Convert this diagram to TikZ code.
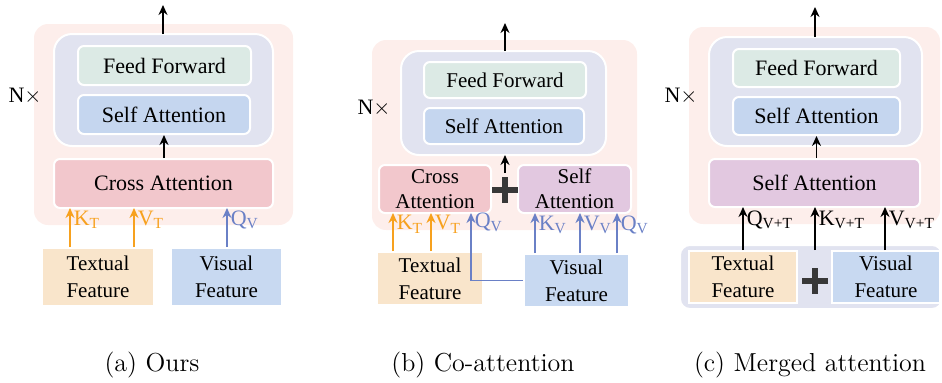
\documentclass[tikz,border=0pt]{standalone}
\usepackage{fontspec}
\usepackage{xcolor}
\usetikzlibrary{arrows.meta,calc,positioning}
\newfontfamily\tnr{Liberation Serif}

\definecolor{outerpink}{HTML}{FDEEEB}
\definecolor{lavender}{HTML}{E1E3F0}
\definecolor{ffgreen}{HTML}{DCEAE5}
\definecolor{sablue}{HTML}{C5D6EF}
\definecolor{crosspink}{HTML}{F2C7CC}
\definecolor{selfpurple}{HTML}{E2C8E0}
\definecolor{peach}{HTML}{F9E5CB}
\definecolor{visblue}{HTML}{C8D9F1}
\definecolor{orangearr}{HTML}{F7A11E}
\definecolor{bluearr}{HTML}{6A80C6}

\tikzset{
  outer/.style={fill=outerpink,draw=none,rounded corners=7pt},
  inner/.style={fill=lavender,draw=white,line width=1pt,rounded corners=9pt},
  blk/.style={draw=white,line width=1pt,rounded corners=3pt,inner sep=0pt,align=center,
    font=\tnr\fontsize{11}{12.5}\selectfont},
  feat/.style={draw=white,line width=1pt,inner sep=0pt,align=center,
    font=\tnr\fontsize{10.5}{13.5}\selectfont},
  arr/.style={line width=0.8pt,-{Stealth[length=5pt,width=4.5pt]}},
  orarr/.style={arr,draw=orangearr},
  blarr/.style={arr,draw=bluearr},
  lbl/.style={font=\tnr\fontsize{11}{12}\selectfont,anchor=west,inner sep=0pt,xshift=1.5pt},
  nx/.style={font=\tnr\fontsize{11}{12}\selectfont},
  plussign/.style={minimum size=13pt,inner sep=0pt,
    path picture={\draw[line width=2.6pt,color=black!78]
      (path picture bounding box.north) -- (path picture bounding box.south)
      (path picture bounding box.west) -- (path picture bounding box.east);}},
  capt/.style={font=\fontsize{13}{15}\selectfont}
}

\begin{document}
\begin{tikzpicture}[x=0.5pt,y=-0.5pt]
\useasboundingbox (0,0) rectangle (942,382);

% (a) ours
\fill[outer] (34,24) rectangle (293,225);
\draw[inner] (54,34) rectangle (273,146);
\node[blk,fill=ffgreen,minimum width=86.5pt,minimum height=19.5pt] (ffa) at (164.5,65.5) {Feed Forward};
\node[blk,fill=sablue,minimum width=86pt,minimum height=19.5pt] (saa) at (164,114.5) {Self Attention};
\node[blk,fill=crosspink,minimum width=109.5pt,minimum height=24.5pt] (crossa) at (163.5,183.5) {Cross Attention};
\node[feat,fill=peach,minimum width=56pt,minimum height=29pt] (texta) at (98,277) {Textual\\Feature};
\node[feat,fill=visblue,minimum width=55.5pt,minimum height=29pt] (visa) at (226.5,277) {Visual\\Feature};
\node[nx] (nxa) at (25,96) {N$\times$};
\coordinate (outa) at (163,5);
\coordinate (inna) at (163,34);
\coordinate (kta) at (70,208);
\coordinate (vta) at (134,208);
\coordinate (qva) at (227,208);
\draw[arr] (crossa.north -| saa.south) -- (saa.south);
\draw[arr] (inna) -- (outa);
\draw[orarr] (texta.north -| kta) -- (kta) node[lbl,orangearr,pos=0.7] {K\textsubscript{T}};
\draw[orarr] (texta.north -| vta) -- (vta) node[lbl,orangearr,pos=0.7] {V\textsubscript{T}};
\draw[blarr] (visa.north -| qva) -- (qva) node[lbl,bluearr,pos=0.7] {Q\textsubscript{V}};

% (b) co-attention
\fill[outer] (372,40) rectangle (637,230);
\draw[inner] (401,51) rectangle (606,155);
\node[blk,fill=ffgreen,minimum width=81pt,minimum height=18pt,font=\tnr\fontsize{10.5}{12}\selectfont] (ffb) at (505,80) {Feed Forward};
\node[blk,fill=sablue,minimum width=80pt,minimum height=18pt,font=\tnr\fontsize{10.5}{12}\selectfont] (sab) at (504,126) {Self Attention};
\node[blk,fill=crosspink,minimum width=56pt,minimum height=24pt,font=\tnr\fontsize{10.5}{12.5}\selectfont] (crossb) at (435,189) {Cross\\Attention};
\node[blk,fill=selfpurple,minimum width=56.5pt,minimum height=24pt,font=\tnr\fontsize{10.5}{12.5}\selectfont] (selfb) at (574.5,189) {Self\\Attention};
\node[plussign] (plusb) at (505,190) {};
\node[feat,fill=peach,minimum width=53pt,minimum height=26.5pt] (textb) at (430,278.5) {Textual\\Feature};
\node[feat,fill=visblue,minimum width=52.5pt,minimum height=26.5pt] (visb) at (576.5,280.5) {Visual\\Feature};
\node[nx] (nxb) at (374,108) {N$\times$};
\coordinate (outb) at (505,23);
\coordinate (innb) at (505,51);
\coordinate (innbotb) at (505,155);
\coordinate (midb) at (505,173);
\coordinate (ktb) at (393,213);
\coordinate (vtb) at (431,213);
\coordinate (qvb) at (471,213);
\coordinate (kvb) at (535,213);
\coordinate (vvb) at (580,213);
\coordinate (qqb) at (617,213);
\draw[arr] (midb) -- (innbotb);
\draw[arr] (innb) -- (outb);
\draw[orarr] (textb.north -| ktb) -- (ktb) node[lbl,orangearr,pos=0.7] {K\textsubscript{T}};
\draw[orarr] (textb.north -| vtb) -- (vtb) node[lbl,orangearr,pos=0.7] {V\textsubscript{T}};
\draw[blarr] (visb.west) -| (qvb) node[lbl,bluearr,pos=0.93] {Q\textsubscript{V}};
\draw[blarr] (visb.north -| kvb) -- (kvb) node[lbl,bluearr,pos=0.7] {K\textsubscript{V}};
\draw[blarr] (visb.north -| vvb) -- (vvb) node[lbl,bluearr,pos=0.7] {V\textsubscript{V}};
\draw[blarr] (visb.north -| qqb) -- (qqb) node[lbl,bluearr,pos=0.7] {Q\textsubscript{V}};

% (c) merged attention
\fill[outer] (689,27) rectangle (940,224);
\draw[inner] (709,37) rectangle (922,146);
\node[blk,fill=ffgreen,minimum width=83.5pt,minimum height=19pt] (ffc) at (816.5,68) {Feed Forward};
\node[blk,fill=sablue,minimum width=83.5pt,minimum height=19pt] (sac) at (816.5,116) {Self Attention};
\node[blk,fill=selfpurple,minimum width=105.5pt,minimum height=24pt] (selfc) at (814.5,183) {Self Attention};
\draw[fill=lavender,draw=white,line width=1pt,rounded corners=5pt] (680,245) rectangle (942,309);
\node[feat,fill=peach,minimum width=54pt,minimum height=26pt] (textc) at (743,277) {Textual\\Feature};
\node[feat,fill=visblue,minimum width=54pt,minimum height=26pt] (visc) at (886,277) {Visual\\Feature};
\node[plussign] (plusc) at (815,281) {};
\node[nx] (nxc) at (681,96) {N$\times$};
\coordinate (outc) at (815,7);
\coordinate (innc) at (815,37);
\coordinate (qc) at (743,207);
\coordinate (kc) at (815,207);
\coordinate (vc) at (885,207);
\draw[arr] (selfc.north -| sac.south) -- (sac.south);
\draw[arr] (innc) -- (outc);
\draw[arr] (textc.north -| qc) -- (qc) node[lbl,pos=0.7] {Q\textsubscript{V+T}};
\draw[arr] (plusc.north |- textc.north) -- (kc) node[lbl,pos=0.7] {K\textsubscript{V+T}};
\draw[arr] (visc.north -| vc) -- (vc) node[lbl,pos=0.7] {V\textsubscript{V+T}};

% captions
\node[capt] (capa) at (152,365) {(a) Ours};
\node[capt] (capb) at (483,365) {(b) Co-attention};
\node[capt] (capc) at (810,365) {(c) Merged attention};
\end{tikzpicture}
\end{document}
